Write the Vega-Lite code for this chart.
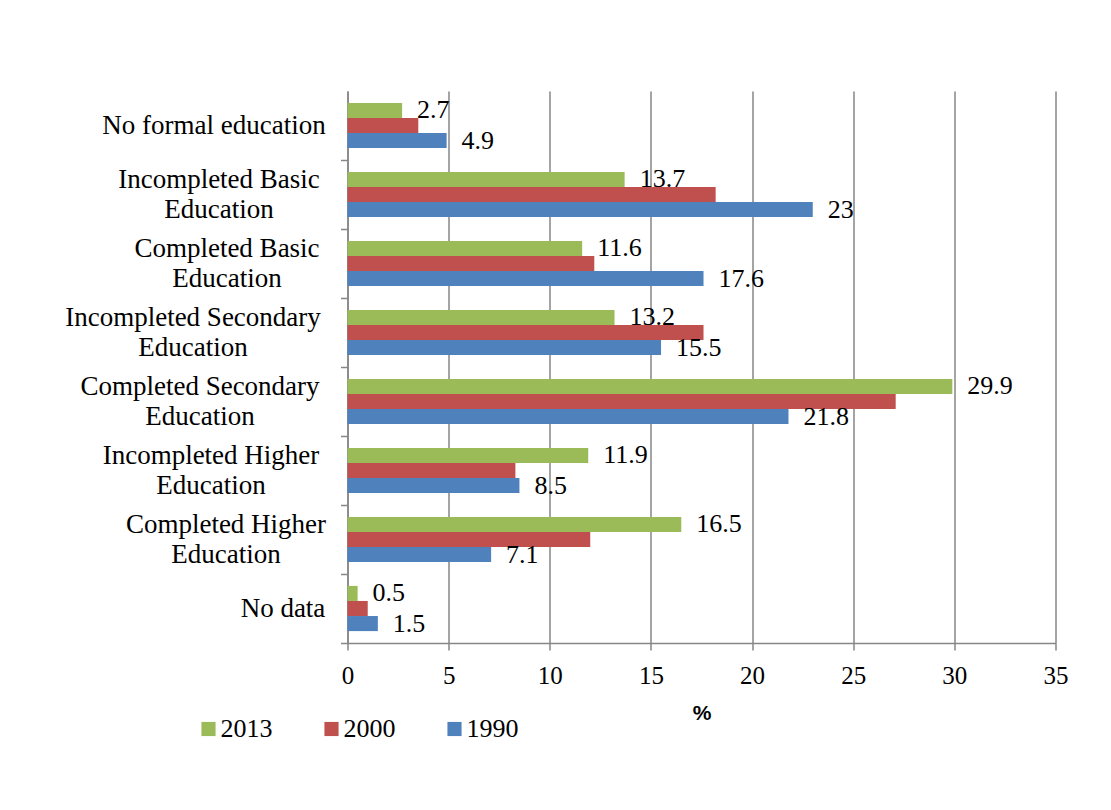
{
  "$schema": "https://vega.github.io/schema/vega-lite/v6.json",
  "width": 708,
  "height": 552,
  "autosize": {"type": "none"},
  "padding": {"left": 347.5, "top": 91, "right": 55.5, "bottom": 167},
  "background": "white",
  "config": {
    "view": {"stroke": null},
    "font": "Liberation Serif",
    "lineBreak": "\n"
  },
  "data": {
    "values": [
      {"category": "No formal education", "year": "2013", "value": 2.7},
      {"category": "No formal education", "year": "2000", "value": 3.5},
      {"category": "No formal education", "year": "1990", "value": 4.9},
      {"category": "Incompleted Basic Education", "year": "2013", "value": 13.7},
      {"category": "Incompleted Basic Education", "year": "2000", "value": 18.2},
      {"category": "Incompleted Basic Education", "year": "1990", "value": 23},
      {"category": "Completed Basic Education", "year": "2013", "value": 11.6},
      {"category": "Completed Basic Education", "year": "2000", "value": 12.2},
      {"category": "Completed Basic Education", "year": "1990", "value": 17.6},
      {"category": "Incompleted Secondary Education", "year": "2013", "value": 13.2},
      {"category": "Incompleted Secondary Education", "year": "2000", "value": 17.6},
      {"category": "Incompleted Secondary Education", "year": "1990", "value": 15.5},
      {"category": "Completed Secondary Education", "year": "2013", "value": 29.9},
      {"category": "Completed Secondary Education", "year": "2000", "value": 27.1},
      {"category": "Completed Secondary Education", "year": "1990", "value": 21.8},
      {"category": "Incompleted Higher Education", "year": "2013", "value": 11.9},
      {"category": "Incompleted Higher Education", "year": "2000", "value": 8.3},
      {"category": "Incompleted Higher Education", "year": "1990", "value": 8.5},
      {"category": "Completed Higher Education", "year": "2013", "value": 16.5},
      {"category": "Completed Higher Education", "year": "2000", "value": 12.0},
      {"category": "Completed Higher Education", "year": "1990", "value": 7.1},
      {"category": "No data", "year": "2013", "value": 0.5},
      {"category": "No data", "year": "2000", "value": 1.0},
      {"category": "No data", "year": "1990", "value": 1.5}
    ]
  },
  "encoding": {
    "y": {
      "field": "category",
      "type": "nominal",
      "sort": null,
      "scale": {"paddingInner": 0.345, "paddingOuter": 0.1725},
      "axis": {
        "title": null,
        "domainColor": "#868686",
        "domainWidth": 1.5,
        "tickColor": "#868686",
        "tickWidth": 1.5,
        "tickSize": 7,
        "tickOffset": 34.5,
        "labelFont": "Liberation Serif",
        "labelFontSize": 27,
        "labelColor": "black",
        "labelLineHeight": 30,
        "labelAlign": "center",
        "labelBaseline": "middle",
        "labelLimit": 0,
        "labelExpr": "replace(datum.value, ' Education', '\\nEducation')",
        "labelOffset": {
          "condition": {"test": "indexof(datum.value, ' Education') > 0", "value": -49.5},
          "value": -34.5
        },
        "labelPadding": {
          "condition": [
            {"test": "datum.value == 'No formal education'", "value": 127},
            {"test": "datum.value == 'Incompleted Basic Education'", "value": 122},
            {"test": "datum.value == 'Completed Basic Education'", "value": 114},
            {"test": "datum.value == 'Incompleted Secondary Education'", "value": 148},
            {"test": "datum.value == 'Completed Secondary Education'", "value": 141},
            {"test": "datum.value == 'Incompleted Higher Education'", "value": 130},
            {"test": "datum.value == 'Completed Higher Education'", "value": 115}
          ],
          "value": 58
        }
      }
    },
    "yOffset": {
      "field": "year",
      "type": "nominal",
      "sort": ["2013", "2000", "1990"],
      "scale": {"paddingInner": 0, "paddingOuter": 0}
    },
    "x": {
      "field": "value",
      "type": "quantitative",
      "scale": {"domain": [0, 35], "nice": false},
      "axis": {
        "title": "%",
        "titleFont": "Liberation Sans",
        "titleFontSize": 21,
        "titleFontWeight": "bold",
        "titleColor": "black",
        "titlePadding": 14,
        "values": [0, 5, 10, 15, 20, 25, 30, 35],
        "domainColor": "#868686",
        "domainWidth": 1.5,
        "tickColor": "#868686",
        "tickWidth": 1.5,
        "tickSize": 7,
        "gridColor": "#868686",
        "gridWidth": 1.5,
        "labelFont": "Liberation Serif",
        "labelFontSize": 25,
        "labelColor": "black",
        "labelPadding": 13,
        "labelFlush": false
      }
    }
  },
  "layer": [
    {
      "mark": {"type": "bar"},
      "encoding": {
        "color": {
          "field": "year",
          "type": "nominal",
          "sort": ["2013", "2000", "1990"],
          "scale": {
            "domain": ["2013", "2000", "1990"],
            "range": ["#9BBB59", "#C0504D", "#4F81BD"]
          },
          "legend": {
            "title": null,
            "orient": "none",
            "legendX": -152,
            "legendY": 625,
            "direction": "horizontal",
            "symbolType": "square",
            "symbolSize": 200,
            "symbolStrokeWidth": 0,
            "symbolOpacity": 1,
            "labelFont": "Liberation Serif",
            "labelFontSize": 26,
            "labelColor": "black",
            "labelOffset": -1,
            "columnPadding": 46,
            "padding": 0
          }
        }
      }
    },
    {
      "transform": [{"filter": "datum.year != '2000'"}],
      "mark": {
        "type": "text",
        "align": "left",
        "baseline": "middle",
        "dx": 15,
        "font": "Liberation Serif",
        "fontSize": 26,
        "color": "black"
      },
      "encoding": {
        "text": {"field": "value", "type": "quantitative"}
      }
    }
  ]
}
